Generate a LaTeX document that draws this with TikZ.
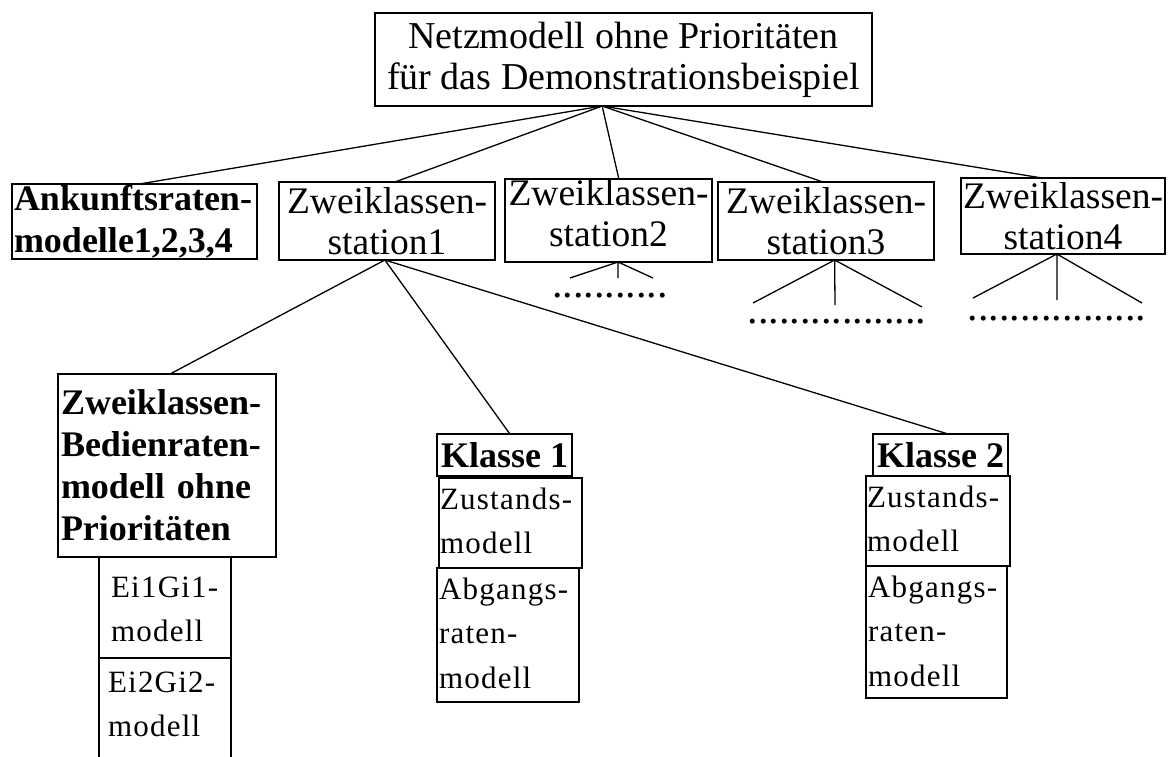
\documentclass[tikz,border=0pt]{standalone}
\usepackage{fontspec}
\setmainfont{Liberation Serif}
\usetikzlibrary{calc}
\begin{document}
\begin{tikzpicture}[x=1pt,y=-1pt,
  box/.style={draw, line width=1.6pt, inner sep=0pt, outer sep=0pt},
  big/.style={font=\fontsize{37.5}{41}\selectfont},
  bigb/.style={font=\fontsize{36}{42}\selectfont\bfseries},
  small/.style={font=\fontsize{31}{44.5}\selectfont\addfontfeature{LetterSpace=4}},
  dots/.style={font=\fontsize{42}{42}\selectfont, inner sep=0pt},
  link/.style={line width=1.3pt}]
\useasboundingbox (0,0) rectangle (1169,756);

% root of the model tree
\node[box, font=\fontsize{38}{41}\selectfont, align=center, minimum width=497pt, minimum height=93pt] (top) at (623.5,59.5)
  {Netzmodell ohne Prioritäten\\für das Demonstrationsbeispiel};

% second level
\node[box, bigb, align=left, text width=241pt, inner xsep=2pt, minimum height=75pt] (ank) at (134.5,221.5)
  {Ankunftsraten-\\modelle1,2,3,4};
\node[box, big, align=center, minimum width=216pt, minimum height=78pt] (s1) at (387,221)
  {Zweiklassen-\\station1};
\node[box, big, align=center, minimum width=207pt, minimum height=79pt, text depth=16pt] (s2) at (608.5,220.5)
  {Zweiklassen-\\station2};
\node[box, big, align=center, minimum width=216pt, minimum height=78pt] (s3) at (826,221)
  {Zweiklassen-\\station3};
\node[box, big, align=center, minimum width=204pt, minimum height=76pt] (s4) at (1063,216)
  {Zweiklassen-\\station4};

% children of station 1 (small boxes: anchored at their top left corner,
% text height = top edge to first baseline, text depth = rest of the box)
\node[box, bigb, align=left, text width=212pt, inner xsep=3pt, minimum height=183pt] (bed) at (167,465.5)
  {Zweiklassen-\\Bedienraten-\\modell ohne\\Prioritäten};
\node[box, small, anchor=north west, align=left, text width=108pt, inner xsep=12pt,
      text height=40pt, text depth=61pt] (ei1) at (99,557)
  {Ei1Gi1-\\modell};
\node[box, small, anchor=north west, align=left, text width=114pt, inner xsep=9pt,
      text height=34pt, text depth=66pt] (ei2) at (99,658)
  {Ei2Gi2-\\modell};

\node[box, bigb, align=center, minimum width=135pt, minimum height=42pt] (k1) at (504.5,455) {Klasse 1};
\node[box, small, anchor=north west, align=left, text width=141pt, inner xsep=1pt,
      text height=31pt, text depth=59pt] (z1) at (439,478)
  {Zustands-\\modell};
\node[box, small, anchor=north west, align=left, text width=138pt, inner xsep=2pt,
      text height=31pt, text depth=103pt] (a1) at (437,568)
  {Abgangs-\\raten-\\modell};

\node[box, bigb, align=center, minimum width=135pt, minimum height=42pt] (k2) at (940.5,455) {Klasse 2};
\node[box, small, anchor=north west, align=left, text width=142pt, inner xsep=1pt,
      text height=31pt, text depth=59pt] (z2) at (866,476)
  {Zustands-\\modell};
\node[box, small, anchor=north west, align=left, text width=137pt, inner xsep=2pt,
      text height=31pt, text depth=101pt] (a2) at (866,566)
  {Abgangs-\\raten-\\modell};

% connectors from the root
\coordinate (tf) at ($(top.south west)!0.457!(top.south east)$);
\draw[link] (tf) -- ($(ank.north west)!0.52!(ank.north east)$);
\draw[link] (tf) -- ($(s1.north west)!0.537!(s1.north east)$);
\draw[link] (tf) -- ($(s2.north west)!0.55!(s2.north east)$);
\draw[link] (tf) -- ($(s3.north west)!0.486!(s3.north east)$);
\draw[link] (tf) -- ($(s4.north west)!0.397!(s4.north east)$);

% connectors below station 1
\coordinate (s1f) at ($(s1.south west)!0.49!(s1.south east)$);
\draw[link] (s1f) -- ($(bed.north west)!0.514!(bed.north east)$);
\draw[link] (s1f) -- ($(k1.north west)!0.54!(k1.north east)$);
\draw[link] (s1f) -- ($(k2.north west)!0.556!(k2.north east)$);

% open subtrees of stations 2 to 4
\coordinate (s2f) at ($(s2.south west)!0.546!(s2.south east)$);
\coordinate (s2l) at (570,278);
\coordinate (s2m) at (618,278);
\coordinate (s2r) at (653,278);
\draw[link] (s2l) -- (s2f) -- (s2r) (s2f) -- (s2m);
\node[dots] (s2d) at (610,296) {...........};

\coordinate (s3f) at ($(s3.south west)!0.54!(s3.south east)$);
\coordinate (s3l) at (753,303);
\coordinate (s3m) at (835,305);
\coordinate (s3r) at (922,307);
\draw[link] (s3l) -- (s3f) -- (s3r) (s3f) -- (s3m);
\node[dots] (s3d) at (837,322) {.................};

\coordinate (s4f) at ($(s4.south west)!0.47!(s4.south east)$);
\coordinate (s4l) at (973,298);
\coordinate (s4m) at (1057,300);
\coordinate (s4r) at (1142,303);
\draw[link] (s4l) -- (s4f) -- (s4r) (s4f) -- (s4m);
\node[dots] (s4d) at (1057,319) {.................};
\end{tikzpicture}
\end{document}
